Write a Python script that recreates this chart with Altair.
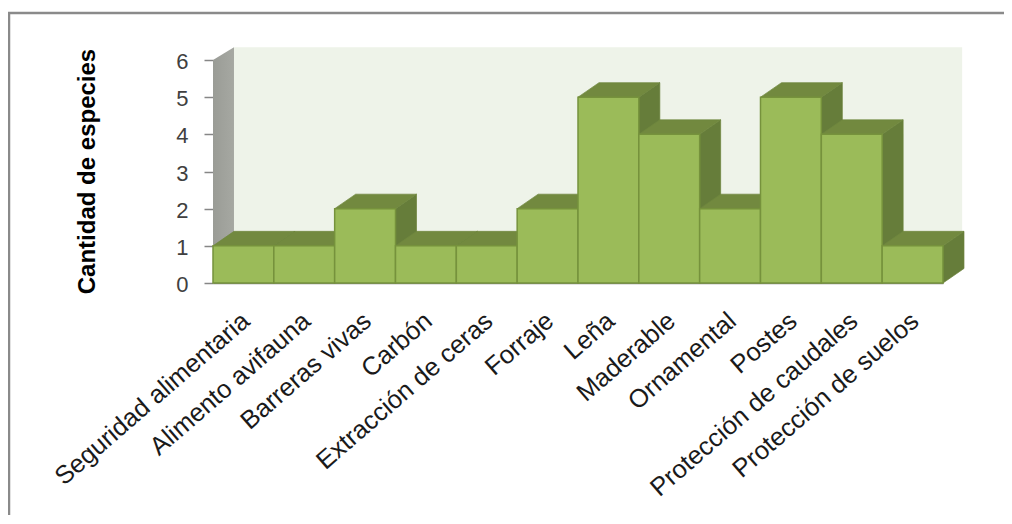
import altair as alt
import pandas as pd

categories = ["Seguridad alimentaria", "Alimento avifauna", "Barreras vivas", "Carbón",
              "Extracción de ceras", "Forraje", "Leña", "Maderable", "Ornamental", "Postes",
              "Protección de caudales", "Protección de suelos"]
values = [1, 1, 2, 1, 1, 2, 5, 4, 2, 5, 4, 1]
y_ticks = [0, 1, 2, 3, 4, 5, 6]

DX = 0.345   # depth of the 3D box, in category units
DY = 0.39    # depth of the 3D box, in value units
N = len(categories)
YMAX = 6

front = pd.DataFrame({"x": range(N), "x2": range(1, N + 1), "y": values, "y2": [0] * N})

side_rows, top_rows = [], []
for i, v in enumerate(values):
    for t in (0, 1):
        side_rows.append({"i": i, "x": i + 1 + t * DX, "y": v + t * DY, "y2": t * DY})
        top_rows.append({"i": i, "y": v + t * DY, "x": i + t * DX, "x2": i + 1 + t * DX})
side = pd.DataFrame(side_rows)
top = pd.DataFrame(top_rows)
wall = pd.DataFrame({"x": [DX], "x2": [N + DX - 0.03], "y": [DY], "y2": [YMAX + DY - 0.05]})
left_wall = pd.DataFrame({"x": [0, DX], "y": [YMAX, YMAX + DY - 0.05], "y2": [0, DY]})

x_scale = alt.Scale(domain=[0, N], nice=False, zero=False)
y_scale = alt.Scale(domain=[0, YMAX], nice=False)

label_list = "[" + ",".join('"%s"' % c for c in categories) + "]"

x_axis = alt.Axis(values=[i + 0.5 for i in range(N)], labelExpr=label_list + "[datum.value-0.5]",
                  labelAngle=-41, labelAlign="right", labelBaseline="middle", labelFontSize=25.5,
                  labelColor="#1a1a1a", labelFont="Liberation Sans", labelPadding=34, labelOffset=2,
                  labelOverlap=False, labelLimit=500, labelBound=False, labelFlush=False, ticks=False,
                  grid=False, domainColor="#868686", domainWidth=1.5, title=None)
y_axis = alt.Axis(values=y_ticks, format="d", labelFontSize=22, labelColor="#404040",
                  labelFont="Liberation Sans", tickColor="#868686", tickSize=9, tickWidth=1.5, labelPadding=16,
                  labelOffset=1.5, labelOverlap=False, domain=False, grid=False, title="Cantidad de especies",
                  titleFont="Liberation Sans", titleFontSize=24, titleFontWeight="bold", titleColor="#000000",
                  titleX=-126, titleY=111, titleAlign="center", titleBaseline="middle", titleLimit=500)

X = lambda: alt.X("x:Q", scale=x_scale, axis=x_axis)
Y = lambda: alt.Y("y:Q", scale=y_scale, axis=y_axis)

frame_data = pd.DataFrame({"k": [0]})

wall_layer = alt.Chart(wall).mark_rect(color="#eef3e9").encode(
    x=X(), x2="x2:Q", y=Y(), y2="y2:Q")

left_layer = alt.Chart(left_wall).mark_area(
    color=alt.Gradient(gradient="linear", x1=0, x2=1, y1=0, y2=0,
                       stops=[alt.GradientStop(color="#9a9c96", offset=0),
                              alt.GradientStop(color="#a6a8a2", offset=1)])
).encode(x=X(), y=Y(), y2="y2:Q")

side_layer = alt.Chart(side).mark_area(color="#667d3a", stroke="#6a8139", strokeWidth=0.7).encode(
    x=X(), y=Y(), y2="y2:Q", detail="i:N")

top_layer = alt.Chart(top).mark_area(orient="horizontal", color="#72893f", stroke="#6f873e",
                                     strokeWidth=0.7).encode(
    y=Y(), x=X(), x2="x2:Q", detail="i:N")

front_layer = alt.Chart(front).mark_rect(color="#9bbb59", stroke="#76923c", strokeWidth=1.5).encode(
    x=X(), x2="x2:Q", y=Y(), y2="y2:Q")

frame_left = alt.Chart(frame_data).mark_rule(color="#8a8a8a", strokeWidth=2.5).encode(
    x=alt.value(-204), y=alt.value(-48), y2=alt.value(470))
frame_top = alt.Chart(frame_data).mark_rule(color="#8a8a8a", strokeWidth=2.5).encode(
    y=alt.value(-47), x=alt.value(-205), x2=alt.value(800))

chart = alt.layer(frame_left, frame_top, wall_layer, left_layer, side_layer, top_layer, front_layer).properties(
    width=730, height=223,
    autosize=alt.AutoSizeParams(type="none"),
    padding={"left": 205, "top": 52, "right": 61, "bottom": 232},
    background="#ffffff",
).configure_view(stroke=None)

chart.save("out.html", embed_options={"renderer": "svg", "actions": False})
